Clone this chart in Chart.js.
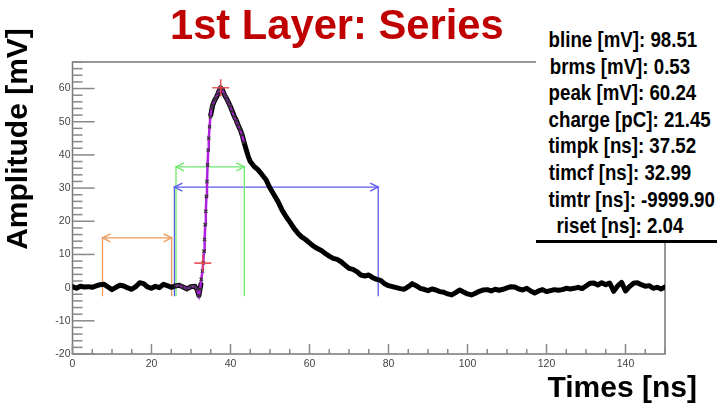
<!DOCTYPE html>
<html>
<head>
<meta charset="utf-8">
<script src="https://cdn.jsdelivr.net/npm/chart.js@4.4.1/dist/chart.umd.min.js"></script>
<style>
  html, body { margin: 0; padding: 0; background: #fff; }
  #wrap { position: relative; width: 717px; height: 415px; overflow: hidden; }
  #myChart { position: absolute; left: 0; top: 0; }
  .txt { position: absolute; font-family: "Liberation Sans", Arial, sans-serif; font-weight: bold; white-space: nowrap; }
  #title { left: 170px; top: 2px; height: 46px; line-height: 46px; font-size: 41.7px; color: #c00000; }
  #ytitle { left: -103px; top: 122px; width: 240px; height: 34px; line-height: 34px; font-size: 30px; text-align: center; transform: rotate(-90deg); color: #000; }
  #xtitle { right: 20px; top: 370px; height: 34px; line-height: 34px; font-size: 30px; color: #000; }
  #stats { position: absolute; left: 536px; top: 27px; width: 181px; height: 213px; background: #fff; border-bottom: 3px solid #000; }
  #stats div { width: 168px; text-align: center; height: 26.6px; line-height: 26.6px; font-family: "Liberation Sans", Arial, sans-serif; font-weight: bold; font-size: 22px; color: #000; white-space: nowrap; transform: scaleX(0.85); transform-origin: 84px 50%; }
</style>
</head>
<body>
<div id="wrap">
  <canvas id="myChart" width="717" height="415"></canvas>
  <div id="title" class="txt">1st Layer: Series</div>
  <div id="ytitle" class="txt">Amplitude [mV]</div>
  <div id="xtitle" class="txt">Times [ns]</div>
  <div id="stats"></div>
</div>
<script>
// waveform (time in ns, amplitude in mV)
const traceT = [0,1,2,3,4,5,6,7,8,9,10,11,12,13,14,15,16,17,18,19,20,21,22,23,24,25,
  26,27,28,29,30,31,31.5,32,32.5,33,33.3,33.6,34,34.3,34.6,35,35.5,36,36.5,37,37.5,38,38.5,39,39.5,
  40,40.5,41,41.5,42,42.5,43,43.5,44,44.5,45,46,47,48,49,50,51,52,53,54,55,56,57,58,59,60,
  61,62,63,64,65,66,67,68,69,70,71,72,73,74,75,76,77,78,79,80,81,82,83,84,85,86,87,88,89,90,
  91,92,93,94,95,96,97,98,99,100,101,102,103,104,105,106,107,108,109,110,111,112,113,114,115,
  116,117,118,119,120,121,122,123,124,125,126,127,128,129,130,131,132,133,134,135,136,137,138,
  139,140,141,142,143,144,145,146,147,148,149,150];
const traceV = [0.3,-0.2,0.4,0.2,0.3,0.1,0.5,0.9,1.0,0.2,-0.6,0.1,0.7,0.5,-0.1,-0.5,0.3,1.5,1.2,0.2,-0.2,0.4,0.0,1.0,0.6,0.1,
  0.5,0.7,0.2,-0.4,0.3,0.4,-0.5,-2.4,1.0,5.5,10.0,19.5,30.5,41.5,47.5,52.0,55.0,56.5,57.5,59.0,60.2,59.5,58.0,57.0,55.8,
  54.5,53.0,51.5,50.3,48.8,47.5,45.8,43.5,41.5,39.5,38.0,36.5,35.5,34.0,32.5,30.0,28.0,26.0,23.5,21.5,19.8,18.0,16.5,15.3,14.5,13.5,
  12.5,11.8,11.2,10.3,9.5,8.8,8.5,7.8,6.8,5.8,5.5,4.8,3.8,3.5,3.8,3.0,2.5,2.2,1.2,0.6,0.3,0.0,-0.3,-0.5,0.3,1.2,0.6,-0.2,-0.5,-0.9,
  -0.4,-0.7,-1.2,-1.4,-1.9,-2.2,-1.5,-0.7,-1.3,-1.9,-2.2,-1.7,-1.1,-0.7,-0.6,-1.0,-0.5,-0.8,-0.5,-0.1,0.3,0.2,-0.4,-0.7,-0.2,
  -1.0,-1.6,-1.0,-0.6,-1.2,-0.9,-0.6,-0.8,-0.6,-0.2,-0.4,-0.2,0.1,-0.3,0.5,1.3,1.4,0.8,1.5,0.9,1.4,-1.1,0.5,
  1.6,-1.0,0.3,1.3,1.5,0.9,0.4,0.6,-0.2,0.1,-0.4,0.2];

// purple fit over the leading edge
const fitT = [26,27,28,29,30,31,31.5,32,32.3,32.6,32.9,33.1,33.3,33.45,33.6,33.75,33.9,34.05,34.2,34.35,34.5,34.7,34.9,
  35.2,35.5,35.9,36.3,36.8,37.2,37.5,37.9,38.4,38.9,39.4,39.9,40.4,40.9,41.4,41.9,42.4,42.9,43.4];
const fitV = [0.5,0.7,0.2,-0.4,0.3,0.4,-0.5,-2.4,-0.5,2.5,5.0,7.5,11.0,14.5,19.0,23.0,27.5,32.0,37.0,41.5,45.0,48.5,51.5,
  54.0,55.0,56.3,57.2,58.5,59.7,60.2,59.8,58.3,57.2,55.9,54.7,53.2,51.6,50.3,49.0,47.7,46.0,43.8];

// red markers: peak and constant fraction time
const markT = [37.52, 33.0];
const markV = [60.24, 7.4];

// interval arrows: baseline window, rise window, charge window
const arrowLeft = [7.6, 26.2, 25.8];
const arrowRight = [25.1, 43.5, 77.4];
const arrowLevel = [15.0, 36.4, 30.3];
const arrowFoot = [-2.6, -2.6, -2.6];
const arrowColors = ['#ee9a5a', '#6ee86e', '#5a5aee'];

const xTicks = [0, 20, 40, 60, 80, 100, 120, 140];
const yTicks = [-20, -10, 0, 10, 20, 30, 40, 50, 60];

const statNames = ['bline [mV]', 'brms [mV]', 'peak [mV]', 'charge [pC]', 'timpk [ns]', 'timcf [ns]', 'timtr [ns]', 'riset [ns]'];
const statValues = ['98.51', '0.53', '60.24', '21.45', '37.52', '32.99', '-9999.90', '2.04'];

document.getElementById('stats').innerHTML = statNames.map((n, i) => '<div>' + n + ': ' + statValues[i] + '</div>').join('');

function line(ctx, x1, y1, x2, y2) {
    ctx.beginPath();
    ctx.moveTo(x1, y1);
    ctx.lineTo(x2, y2);
    ctx.stroke();
}

// frame + ROOT style inner ticks
const framePlugin = {
    id: 'frame',
    beforeDatasetsDraw(chart) {
        const ctx = chart.ctx;
        const a = chart.chartArea;
        const x = chart.scales.x, y = chart.scales.y;
        ctx.save();
        ctx.strokeStyle = '#777';
        ctx.lineWidth = 1.5;
        ctx.strokeRect(a.left, a.top, a.right - a.left, a.bottom - a.top);
        ctx.strokeStyle = '#888';
        for (let v = y.min; v <= y.max; v += 2) {
            let py = y.getPixelForValue(v);
            line(ctx, a.left, py, a.left + (v % 10 === 0 ? 22 : 10), py);
        }
        for (let v = x.min; v <= x.max; v += 5) {
            let px = x.getPixelForValue(v);
            line(ctx, px, a.bottom, px, a.bottom - (v % 20 === 0 ? 10 : 5));
        }
        ctx.restore();
    },
    afterDatasetsDraw(chart) {
        // open arrow heads on both ends of each interval
        const ctx = chart.ctx;
        const x = chart.scales.x, y = chart.scales.y;
        ctx.save();
        ctx.lineWidth = 1.3;
        for (let i = 0; i < arrowLeft.length; i++) {
            let py = y.getPixelForValue(arrowLevel[i]);
            let l = x.getPixelForValue(arrowLeft[i]);
            let r = x.getPixelForValue(arrowRight[i]);
            ctx.strokeStyle = arrowColors[i];
            ctx.beginPath();
            ctx.moveTo(l + 8, py - 4); ctx.lineTo(l, py); ctx.lineTo(l + 8, py + 4);
            ctx.moveTo(r - 8, py - 4); ctx.lineTo(r, py); ctx.lineTo(r - 8, py + 4);
            ctx.stroke();
        }
        ctx.restore();
    }
};

let datasets = [];
for (let i = 0; i < arrowLeft.length; i++) {
    datasets.push({
        data: [
            {x: arrowLeft[i], y: arrowFoot[i]}, {x: arrowLeft[i], y: arrowLevel[i]},
            {x: arrowRight[i], y: arrowLevel[i]}, {x: arrowRight[i], y: arrowFoot[i]}
        ],
        showLine: true,
        borderColor: arrowColors[i],
        borderWidth: 1.3,
        pointRadius: 0,
        order: 4
    });
}
datasets.push({
    data: traceT.map((t, i) => ({x: t, y: traceV[i]})),
    showLine: true,
    borderColor: '#000',
    borderWidth: 5,
    borderJoinStyle: 'round',
    borderCapStyle: 'round',
    pointRadius: 0,
    segment: {
        // leading edge only shows through the fit markers
        borderColor: c => Math.abs(c.p1.parsed.y - c.p0.parsed.y) > 4 ? 'rgba(0,0,0,0)' : undefined
    },
    order: 3
});
datasets.push({
    data: fitT.map((t, i) => ({x: t, y: fitV[i]})),
    showLine: true,
    borderColor: '#b01ee0',
    borderWidth: 2.5,
    pointStyle: 'crossRot',
    pointRadius: 2.3,
    pointBorderWidth: 1.2,
    pointBorderColor: '#333',
    pointBackgroundColor: '#333',
    order: 2
});
datasets.push({
    data: markT.map((t, i) => ({x: t, y: markV[i]})),
    showLine: false,
    pointStyle: 'cross',
    pointRadius: 8.5,
    pointBorderWidth: 1.6,
    pointBorderColor: 'rgba(232,70,80,0.9)',
    order: 1
});

var ctx = document.getElementById('myChart').getContext('2d');
var chart = new Chart(ctx, {
    type: 'scatter',
    data: { datasets: datasets },
    options: {
        responsive: false,
        animation: false,
        events: [],
        layout: { padding: { top: 62, right: 52, left: 0, bottom: 0 } },
        plugins: { legend: { display: false }, tooltip: { enabled: false } },
        scales: {
            x: {
                type: 'linear', min: 0, max: 150,
                grid: { display: false, drawTicks: false },
                border: { display: false },
                afterFit: s => { s.height = 61; },
                afterBuildTicks: s => { s.ticks = xTicks.map(v => ({value: v})); },
                ticks: { padding: 4, maxRotation: 0, color: '#444', font: { family: '"Liberation Sans", Arial', size: 10.5 } }
            },
            y: {
                type: 'linear', min: -20, max: 68,
                grid: { display: false, drawTicks: false },
                border: { display: false },
                afterFit: s => { s.width = 72.5; },
                afterBuildTicks: s => { s.ticks = yTicks.map(v => ({value: v})); },
                ticks: { padding: 2, color: '#444', font: { family: '"Liberation Sans", Arial', size: 10.5 } }
            }
        }
    },
    plugins: [framePlugin]
});
</script>
</body>
</html>
